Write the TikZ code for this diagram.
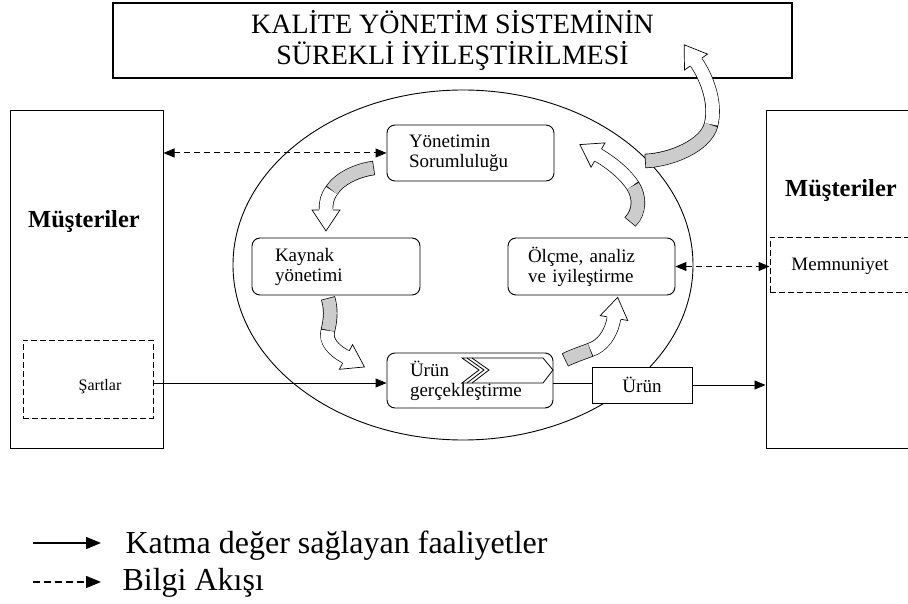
\documentclass[tikz,border=0pt]{standalone}
\usepackage{fontspec}
\setmainfont{Liberation Serif}
\usetikzlibrary{arrows.meta,decorations.markings,shapes.geometric}
\newcommand\cbhead{%
  \fill[white] (-1pt,-6.6pt) rectangle (1pt,6.6pt);
  \draw[line width=0.7pt, fill=white, line join=miter] (0pt,7pt) -- (0pt,14pt) -- (21pt,0pt) -- (0pt,-14pt) -- (0pt,-7pt);
}
\newcommand\cbarrow[7]{%
  \draw[line width=14.4pt, line cap=butt] (#1) .. controls (#2) and (#3) .. (#4) .. controls (#5) and (#6) .. (#7);
  \draw[line width=13pt, line cap=butt, draw=gray!40, shorten <=0.7pt] (#1) .. controls (#2) and (#3) .. (#4);
  \draw[line width=13pt, line cap=butt, white, shorten <=0.7pt] (#4) .. controls (#5) and (#6) .. (#7);
  \path[decorate, decoration={markings, mark=at position 0.999 with {\cbhead}}] (#4) .. controls (#5) and (#6) .. (#7);
}
\begin{document}
\begin{tikzpicture}[x=1pt,y=-1pt,
  plainbox/.style={draw, line width=1pt, fill=white, inner sep=0pt},
  roundbox/.style={draw, line width=0.9pt, fill=white, rounded corners=8pt, align=left,
    font=\fontsize{19}{20}\selectfont, inner ysep=0pt},
  dashbox/.style={draw, line width=0.9pt, dash pattern=on 6pt off 3pt, inner sep=0pt},
  flowline/.style={line width=0.9pt, -{Triangle[length=11pt,width=9pt]}},
  infoline/.style={line width=1pt, dash pattern=on 6pt off 4pt,
    {Triangle[length=11pt,width=9pt]}-{Triangle[length=11pt,width=9pt]}},
  bigtext/.style={font=\bfseries\fontsize{24.5}{28}\selectfont},
  legtext/.style={anchor=base west, font=\fontsize{32}{36}\selectfont},
]
\useasboundingbox (0,0) rectangle (908,604);
\begin{scope}
\clip (0,0) rectangle (908,604);

% central oval
\node[draw, ellipse, line width=0.9pt, minimum width=460pt, minimum height=350pt, inner sep=0pt] (E) at (463,265) {};

% customers (left)
\node[plainbox, minimum width=153pt, minimum height=337pt] (L) at (86.5,279.5) {};
\node[bigtext, anchor=base] (Lt) at (84,228) {Müşteriler};
\node[dashbox, minimum width=130pt, minimum height=78pt] (S) at (88,379) {};
\node[anchor=base, font=\fontsize{16}{18}\selectfont] (St) at (100,390) {Şartlar};

% customers (right)
\node[plainbox, minimum width=200pt, minimum height=337pt] (R) at (866,279.5) {};
\node[bigtext, anchor=base] (Rt) at (841,197) {Müşteriler};
\node[dashbox, fill=white, minimum width=200pt, minimum height=55pt] (M) at (870,264.5) {};
\node[anchor=base, font=\fontsize{19}{20}\selectfont] (Mt) at (840,271) {Memnuniyet};

% process boxes
\node[roundbox, text width=123pt, inner xsep=22pt, minimum height=56pt] (Y) at (470.5,153) {Yönetimin\\Sorumluluğu};
\node[roundbox, text width=122pt, inner xsep=23pt, minimum height=57pt] (K) at (336,266.5) {Kaynak\\yönetimi};
\node[roundbox, text width=127pt, inner xsep=20pt, minimum height=57pt] (O) at (591.5,266.5) {Ölçme, analiz\\ve iyileştirme};
\node[roundbox, text width=120pt, inner xsep=23pt, minimum height=55pt] (G) at (470,380.5) {Ürün\\gerçekleştirme};
\node[plainbox, minimum width=100pt, minimum height=36pt, font=\fontsize{19}{20}\selectfont] (P) at (642,385) {Ürün};

% chevron inside product realisation
\draw[line width=0.8pt, fill=white, line join=miter] (462,358) -- (543,358) -- (553,370) -- (543,383) -- (462,383) -- (479,370) -- cycle;
\draw[line width=0.8pt] (467,358) -- (484,370) -- (467,383);
\draw[line width=0.8pt] (472,358) -- (489,370) -- (472,383);

% connectors
\draw[infoline] (L.east |- Y.west) -- (Y.west);
\draw[infoline] (O.east) -- (O.east -| M.west);
\coordinate (f1) at ([yshift=-4pt]S.east);
\draw[flowline] (f1) -- (f1 -| G.west);
\draw[line width=0.9pt] (f1 -| G.east) -- (f1 -| P.west);
\draw[flowline] (P.east) -- (P.east -| R.west);

% title
\node[plainbox, line width=1.2pt, minimum width=679pt, minimum height=75pt, align=center,
  font=\fontsize{28}{31}\selectfont] (T) at (452.5,40.5) {KALİTE YÖNETİM SİSTEMİNİN\\SÜREKLİ İYİLEŞTİRİLMESİ};

% curved block arrows
\cbarrow{374,168}{358,170}{340,178}{332,190}{327,197}{326,202}{326,210}
\cbarrow{328,298}{331,308}{331,318}{328,330}{325,341}{333,350}{346,357}
\cbarrow{565,360}{573,356}{582,353}{590,350}{602,346}{611,335}{614,318}
\cbarrow{630,222}{640,212}{640,197}{633,186}{626,175}{612,163}{598,155}
\cbarrow{645,161}{672,160}{706,145}{711,125}{716.5,103}{707,78}{696,62}

% legend
\coordinate (la1) at (33,543);
\coordinate (la2) at (101,543);
\coordinate (lb1) at (33,582);
\coordinate (lb2) at (101,582);
\draw[line width=1.5pt, -{Triangle[length=15pt,width=12pt]}] (la1) -- (la2);
\draw[line width=1.5pt, dash pattern=on 7pt off 4pt, -{Triangle[length=15pt,width=12pt]}] (lb1) -- (lb2);
\node[legtext] (lt1) at (122,553) {Katma değer sağlayan faaliyetler};
\node[legtext] (lt2) at (119,590) {Bilgi Akışı};
\end{scope}
\end{tikzpicture}
\end{document}
